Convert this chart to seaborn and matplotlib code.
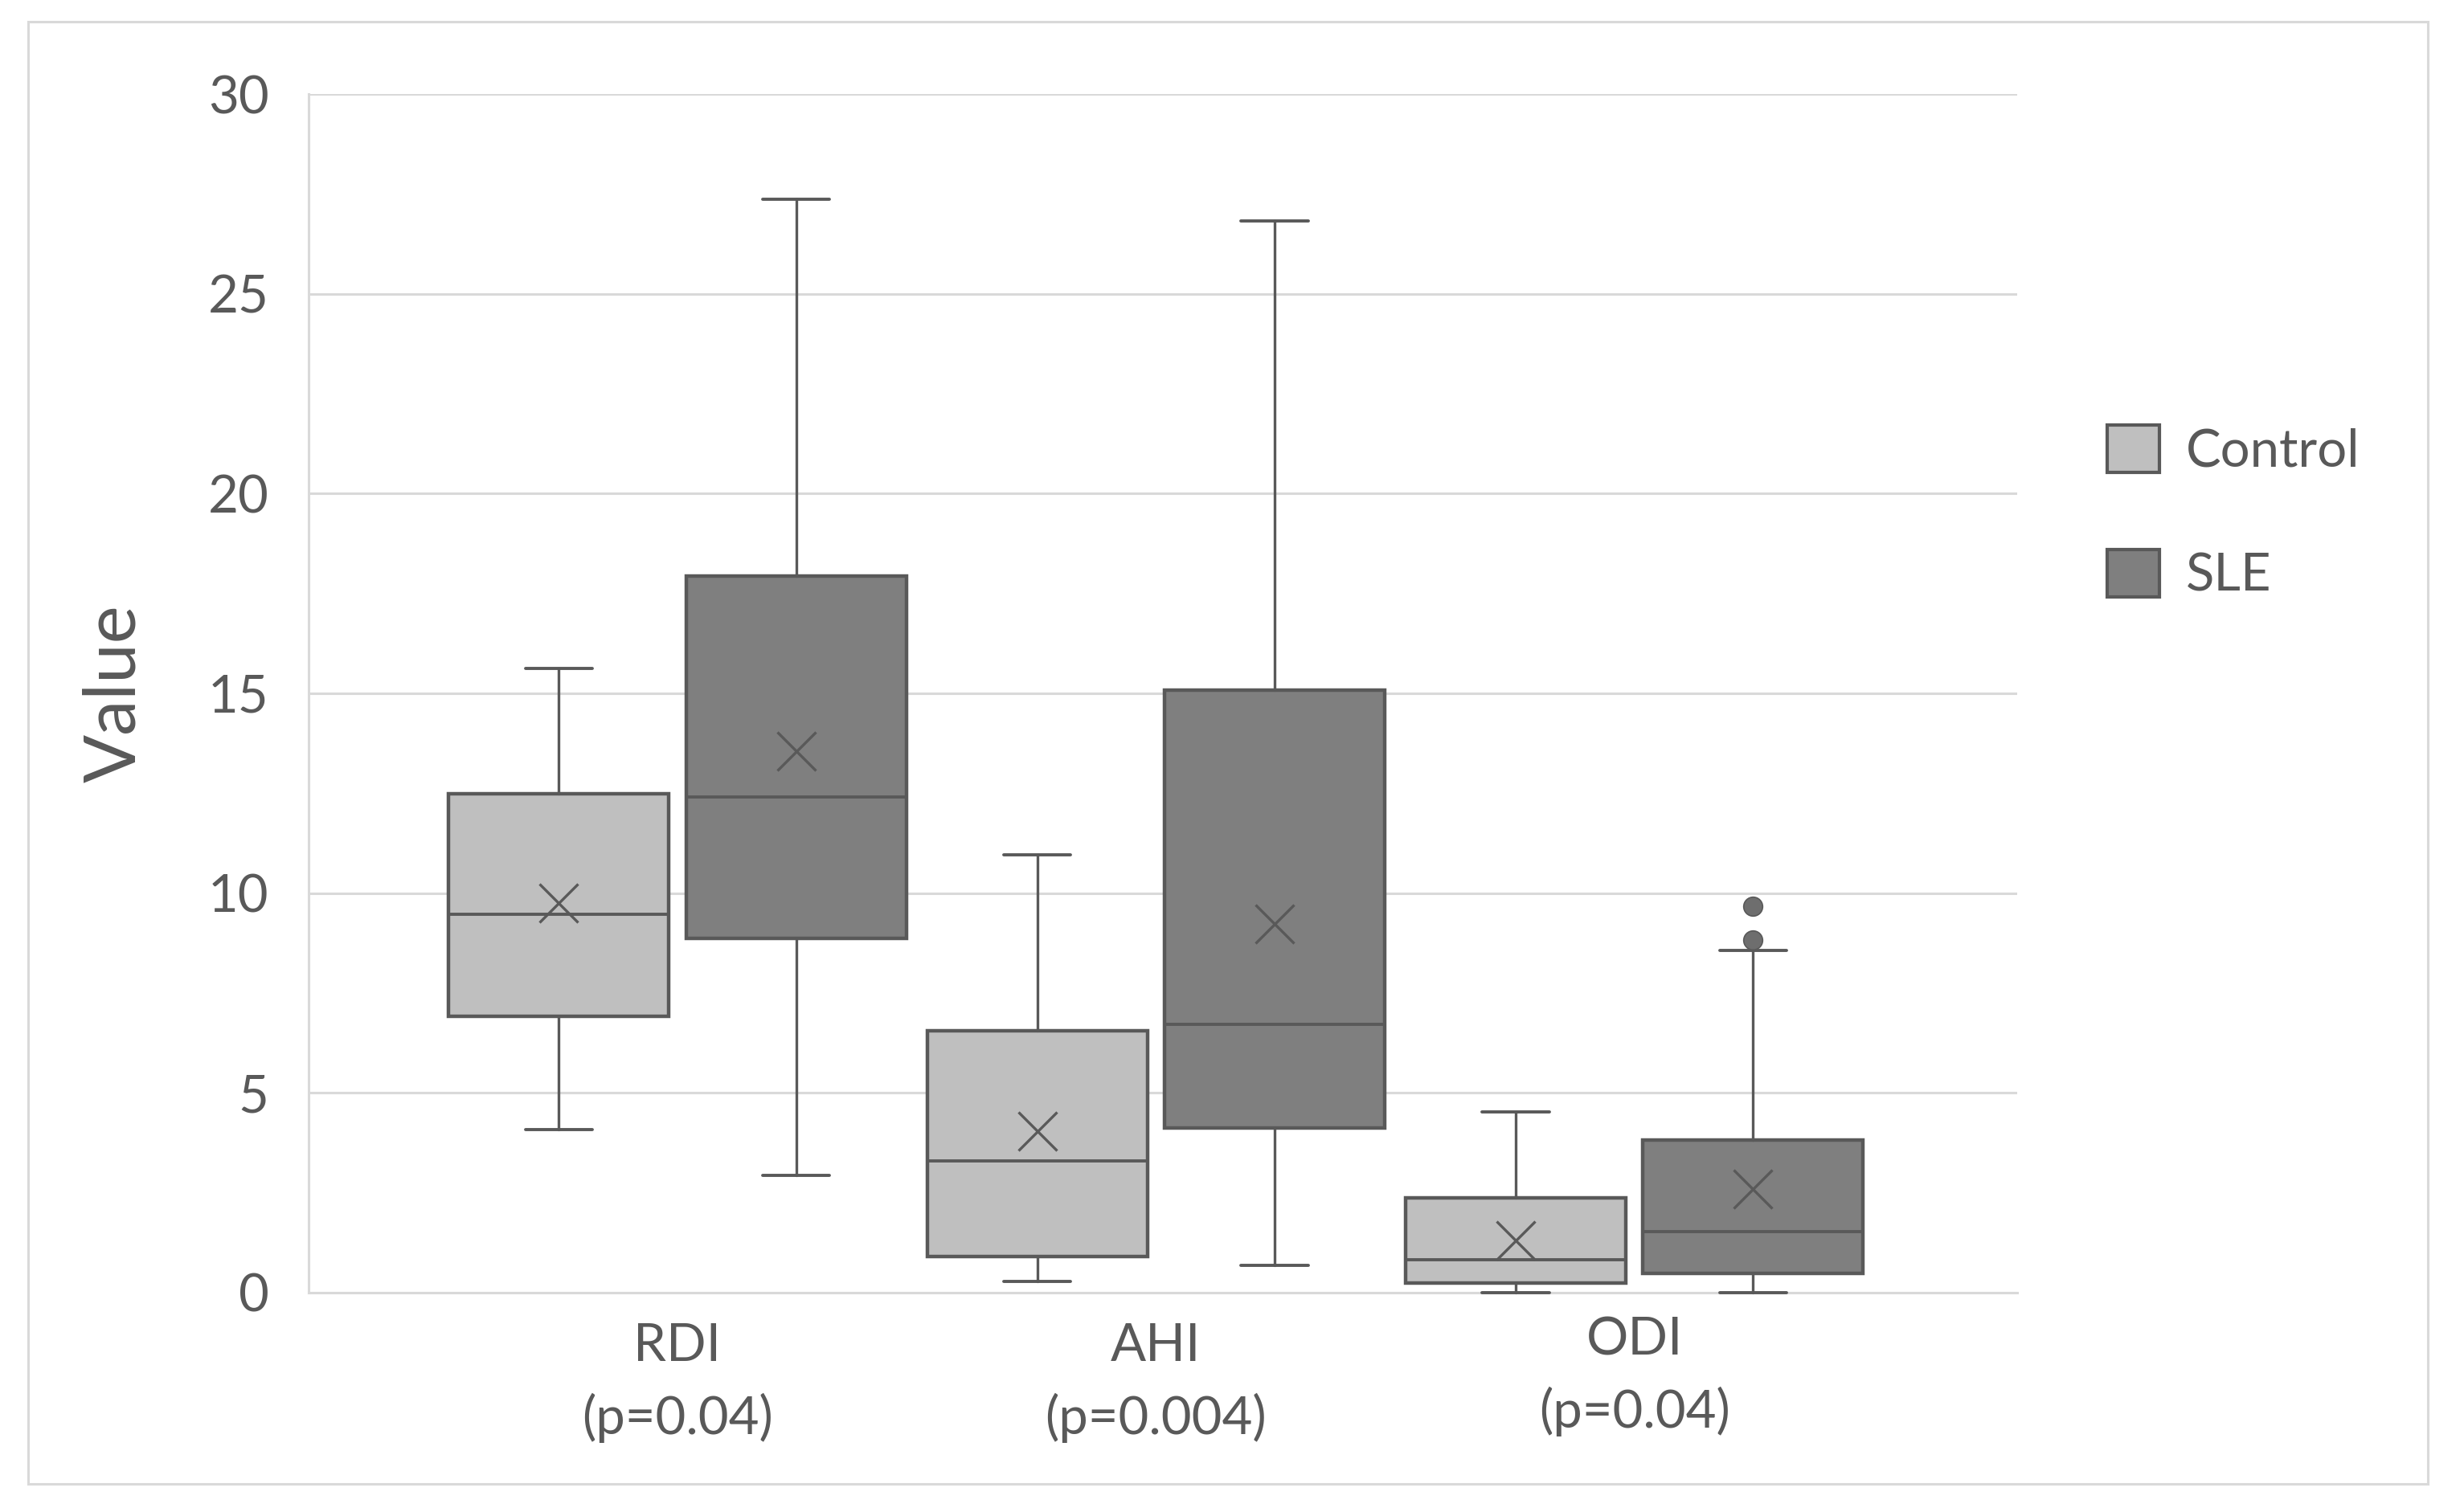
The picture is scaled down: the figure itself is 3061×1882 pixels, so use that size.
import matplotlib
matplotlib.use("Agg")
import matplotlib.pyplot as plt
import matplotlib.transforms as mtrans
from matplotlib.patches import Patch, Rectangle
import seaborn as sns

# ---------------- data ----------------
categories = ["RDI\n(p=0.04)", "AHI\n(p=0.004)", "ODI\n(p=0.04)"]
groups = ["Control", "SLE"]

ctrl_min = [4.08, 0.27, 0.00]
ctrl_q1 = [6.91, 0.90, 0.24]
ctrl_med = [9.46, 3.30, 0.82]
ctrl_q3 = [12.49, 6.56, 2.36]
ctrl_max = [15.63, 10.95, 4.52]
ctrl_mean = [9.74, 4.04, 1.30]
ctrl_out = [[], [], []]

sle_min = [2.94, 0.67, 0.00]
sle_q1 = [8.87, 4.12, 0.47]
sle_med = [12.41, 6.71, 1.53]
sle_q3 = [17.94, 15.08, 3.81]
sle_max = [27.37, 26.82, 8.56]
sle_mean = [13.55, 9.23, 2.59]
sle_out = [[], [], [8.83, 9.66]]

yticks = [0, 5, 10, 15, 20, 25, 30]

# ---------------- style ----------------
sns.set_theme(style="white")
plt.rcParams["font.family"] = ["Lato", "DejaVu Sans"]

TEXT = "#595959"
EDGE = "#595959"
GRID = "#D9D9D9"
palette = {"Control": "#BFBFBF", "SLE": "#7F7F7F"}

fig = plt.figure(figsize=(30.61, 18.82), dpi=100)
ax = fig.add_axes([0.1256, 0.1452, 0.8200 - 0.1256, 0.9378 - 0.1452])

series = {
    "Control": (ctrl_min, ctrl_q1, ctrl_med, ctrl_q3, ctrl_max, ctrl_mean, ctrl_out),
    "SLE": (sle_min, sle_q1, sle_med, sle_q3, sle_max, sle_mean, sle_out),
}
offsets = {"Control": -0.248, "SLE": 0.248}
box_w = 0.46
cap_w = 0.14

for g in groups:
    mn, q1, md, q3, mx, mean, out = series[g]
    stats = []
    for i in range(len(categories)):
        stats.append(dict(whislo=mn[i], q1=q1[i], med=md[i], q3=q3[i],
                          whishi=mx[i], mean=mean[i], fliers=out[i]))
    pos = [i + offsets[g] for i in range(len(categories))]
    arts = ax.bxp(stats, positions=pos, widths=box_w, capwidths=cap_w,
                  patch_artist=True, showmeans=True, manage_ticks=False,
                  boxprops=dict(facecolor=palette[g], edgecolor=EDGE, linewidth=3.2),
                  medianprops=dict(color=EDGE, linewidth=2.8),
                  whiskerprops=dict(color=EDGE, linewidth=2.4),
                  capprops=dict(color=EDGE, linewidth=2.8),
                  meanprops=dict(marker="x", markersize=34, markeredgecolor=EDGE,
                                 markeredgewidth=2.4, linestyle="none"),
                  flierprops=dict(marker="o", markersize=17, markerfacecolor="#6E6E6E",
                                  markeredgecolor=EDGE, markeredgewidth=1.2))
    for key in arts:
        for a in arts[key]:
            a.set_clip_on(False)
            a.set_zorder(3)

# ---------------- axes ----------------
ax.set_xlim(-0.77, 2.80)
ax.set_ylim(0, 30)
ax.set_yticks(yticks)
ax.set_yticklabels([str(t) for t in yticks])
ax.set_xticks(range(len(categories)))
ax.set_xticklabels(categories, linespacing=1.55)
ax.tick_params(axis="both", length=0, labelsize=47, colors=TEXT)
ax.tick_params(axis="y", pad=36)
ax.tick_params(axis="x", pad=27)
for lab in ax.get_xticklabels():
    lab.set_color(TEXT)

# ODI label sits slightly higher in the reference
odi = ax.get_xticklabels()[2]
odi.set_transform(odi.get_transform() + mtrans.ScaledTranslation(0, 0.08, fig.dpi_scale_trans))

ax.set_axisbelow(True)
ax.yaxis.grid(True, color=GRID, linewidth=2.2)
ax.xaxis.grid(False)
for s in ["top", "right"]:
    ax.spines[s].set_visible(False)
for s in ["left", "bottom"]:
    ax.spines[s].set_color(GRID)
    ax.spines[s].set_linewidth(2.2)

ax.set_ylabel("Value", fontsize=64, color=TEXT)
ax.yaxis.set_label_coords(-0.094, 0.5)

# ---------------- legend ----------------
handles = [Patch(facecolor=palette[g], edgecolor=EDGE, linewidth=3.0, label=g) for g in groups]
fig.legend(handles=handles, loc="center left", bbox_to_anchor=(0.8565, 0.661),
           frameon=False, fontsize=47, handlelength=1.0, handleheight=1.0,
           handletextpad=0.5, labelspacing=1.42, borderpad=0, borderaxespad=0,
           labelcolor=TEXT)

# ---------------- outer border ----------------
fig.patches.append(Rectangle((0.0115, 0.0187), 0.987 - 0.0115, 0.9855 - 0.0187,
                             transform=fig.transFigure, fill=False,
                             edgecolor=GRID, linewidth=2.2, zorder=0))

fig.savefig("out.png", dpi=100, facecolor="white")
